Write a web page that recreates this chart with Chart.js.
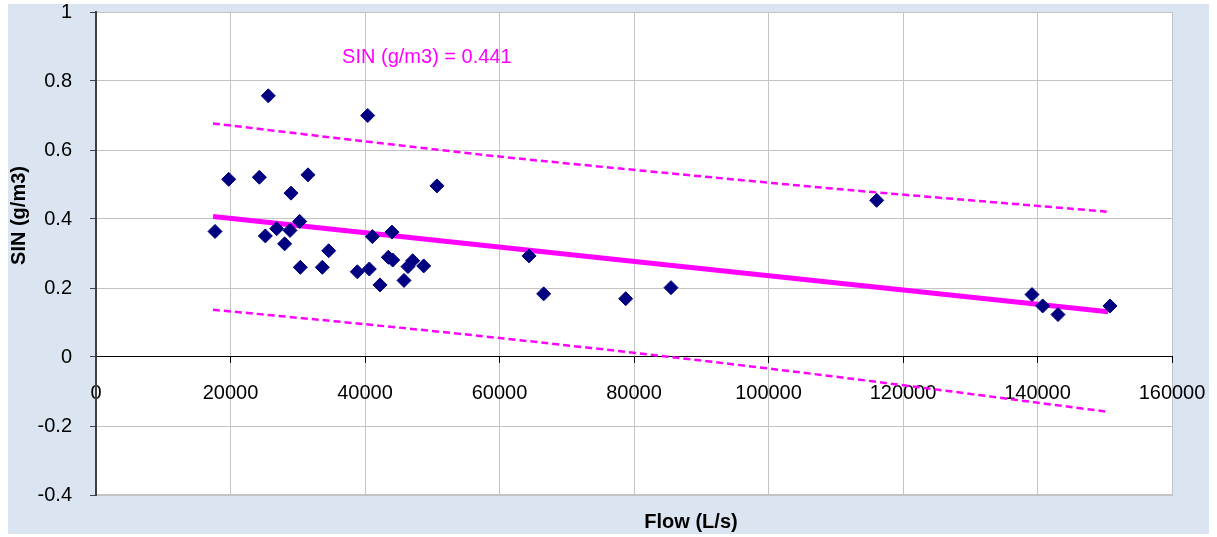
<!DOCTYPE html>
<html>
<head>
<meta charset="utf-8">
<script src="https://cdn.jsdelivr.net/npm/chart.js"></script>
<style>
  body { margin: 0; background: #ffffff; }
  canvas { display: block; }
</style>
</head>
<body>
<canvas id="scatter-chart" width="1217" height="537"></canvas>
<script>
var flow = [17700, 19730, 24290, 25180, 25620, 26870, 28050, 28850, 29000, 30290,
            30380, 31520, 33650, 34600, 38860, 40400, 40640, 41090, 42230, 43470,
            44010, 44120, 45800, 46390, 47090, 48730, 50700, 64390, 66570, 78760,
            85500, 116090, 139180, 140770, 143050, 150780];
var sin = [0.364, 0.515, 0.521, 0.351, 0.757, 0.372, 0.328, 0.367, 0.475, 0.393,
           0.260, 0.528, 0.260, 0.308, 0.247, 0.700, 0.255, 0.349, 0.209, 0.289,
           0.362, 0.281, 0.222, 0.262, 0.279, 0.264, 0.496, 0.293, 0.183, 0.169,
           0.201, 0.454, 0.181, 0.148, 0.123, 0.148];

// regression line
var fitFlow = [17400, 150500];
var fitSin = [0.407, 0.131];

// upper / lower bands (slightly bowed)
var bandFlow = [17400, 40000, 60000, 85000, 112000, 150500];
var upperSin = [0.677, 0.625, 0.581, 0.533, 0.484, 0.421];
var lowerSin = [0.137, 0.095, 0.055, 0.001, -0.062, -0.159];

var xTicks = [0, 20000, 40000, 60000, 80000, 100000, 120000, 140000, 160000];
var yTicks = [-0.4, -0.2, 0, 0.2, 0.4, 0.6, 0.8, 1];

var label_text = 'SIN (g/m3) = 0.441';
var x_title = 'Flow (L/s)';
var y_title = 'SIN (g/m3)';

var MAGENTA = '#ff00ff';
var NAVY = '#000080';
var BG = '#dbe5f1';
var FONT = 'Liberation Sans, Arial, sans-serif';

function pairs(xs, ys)
{
    var out = [];
    for (var i = 0; i < xs.length; i++) {
        out.push({x: xs[i], y: ys[i]});
    }
    return out;
}

function band(data, width, dash)
{
    return {
        data: data,
        showLine: true,
        borderColor: MAGENTA,
        backgroundColor: MAGENTA,
        borderWidth: width,
        borderDash: dash,
        pointRadius: 0,
        borderCapStyle: 'butt',
        tension: 0.3,
    };
}

// background panel + white plot area
var backdrop = {
    id: 'backdrop',
    beforeDraw: function (chart) {
        var ctx = chart.ctx, a = chart.chartArea;
        ctx.save();
        ctx.fillStyle = BG;
        ctx.fillRect(8, 4, 1201, 530);
        ctx.fillStyle = '#ffffff';
        ctx.fillRect(a.left, a.top, a.right - a.left, a.bottom - a.top);
        ctx.restore();
    }
};

// equation label and axis titles
var texts = {
    id: 'texts',
    afterDraw: function (chart) {
        var ctx = chart.ctx, a = chart.chartArea;
        var sx = chart.scales.x, sy = chart.scales.y;
        ctx.save();
        ctx.textAlign = 'center';
        ctx.textBaseline = 'middle';

        ctx.fillStyle = MAGENTA;
        ctx.font = '20px ' + FONT;
        ctx.fillText(label_text, sx.getPixelForValue(49200), sy.getPixelForValue(0.867));

        ctx.fillStyle = '#000000';
        ctx.font = 'bold 20px ' + FONT;
        ctx.fillText(x_title, (a.left + a.right) / 2 + 57, 522);

        ctx.translate(19, (a.top + a.bottom) / 2 - 38);
        ctx.rotate(-Math.PI / 2);
        ctx.fillText(y_title, 0, 0);
        ctx.restore();
    }
};

new Chart(document.getElementById('scatter-chart'), {
    type: 'scatter',
    data: {
        datasets: [
            {
                data: pairs(flow, sin),
                pointStyle: 'rectRot',
                pointRadius: 7,
                pointHoverRadius: 7,
                backgroundColor: NAVY,
                borderColor: NAVY,
                borderWidth: 1,
            },
            band(pairs(fitFlow, fitSin), 5, []),
            band(pairs(bandFlow, upperSin), 2.5, [7, 4]),
            band(pairs(bandFlow, lowerSin), 2.5, [7, 4]),
        ]
    },
    options: {
        responsive: false,
        animation: false,
        layout: { padding: { top: 12, right: 45, bottom: 0, left: 0 } },
        plugins: {
            legend: { display: false },
            tooltip: { enabled: false },
        },
        scales: {
            x: {
                type: 'linear',
                position: { y: 0 },
                min: xTicks[0],
                max: xTicks[xTicks.length - 1],
                afterBuildTicks: function (s) {
                    s.ticks = xTicks.map(function (v) { return {value: v}; });
                },
                afterFit: function (s) { s.paddingLeft = 0; s.paddingRight = 0; },
                ticks: {
                    color: '#000000',
                    font: { family: FONT, size: 20 },
                    padding: 18,
                    maxRotation: 0,
                    callback: function (v) { return String(v); },
                },
                grid: { color: '#c4c4c4', tickLength: 6, tickColor: '#000000' },
                border: { color: '#000000', width: 1 },
            },
            x2: {
                type: 'linear',
                position: 'bottom',
                min: xTicks[0],
                max: xTicks[xTicks.length - 1],
                ticks: { display: false },
                grid: { display: false },
                border: { display: true, color: '#c4c4c4', width: 2 },
                afterFit: function (s) {
                    s.height = 42;
                    s.paddingLeft = 0;
                    s.paddingRight = 0;
                },
            },
            y: {
                type: 'linear',
                min: yTicks[0],
                max: yTicks[yTicks.length - 1],
                afterBuildTicks: function (s) {
                    s.ticks = yTicks.map(function (v) { return {value: v}; });
                },
                ticks: {
                    color: '#000000',
                    font: { family: FONT, size: 20 },
                    padding: 18,
                    callback: function (v) { return String(Math.round(v * 10) / 10); },
                },
                grid: { color: '#c4c4c4', tickLength: 6, tickColor: '#404040' },
                border: { color: '#404040', width: 2 },
                afterFit: function (s) {
                    s.width = 96;
                    s.paddingTop = 0;
                    s.paddingBottom = 0;
                },
            },
        }
    },
    plugins: [backdrop, texts]
});
</script>
</body>
</html>
